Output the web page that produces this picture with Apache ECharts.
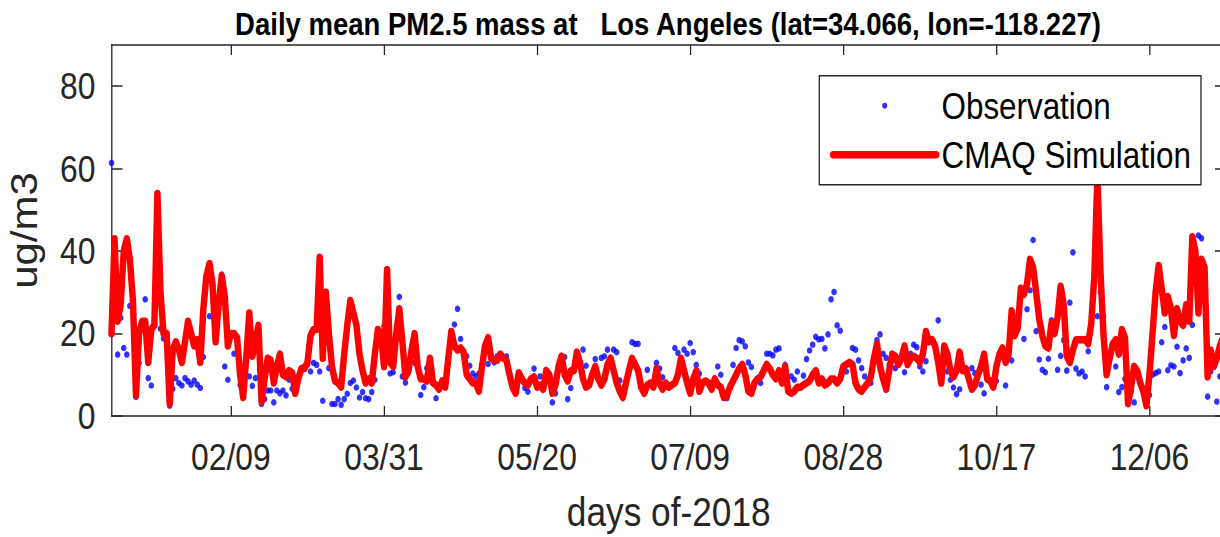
<!DOCTYPE html>
<html>
<head>
<meta charset="utf-8">
<script src="https://cdn.jsdelivr.net/npm/echarts@6/dist/echarts.min.js"></script>
<style>
  html, body { margin: 0; padding: 0; background: #fff; overflow: hidden; }
  #frame { width: 1220px; height: 537px; overflow: hidden; position: relative; }
  #chart { height: 537px; transform-origin: 0 0; }
</style>
</head>
<body>
<div id="frame"><div id="chart"></div></div>
<script>
// Tick positions (day of year) and their date labels
const tickDays = [40, 90, 140, 190, 240, 290, 340];
const tickLabels = ['02/09', '03/31', '05/20', '07/09', '08/28', '10/17', '12/06'];
const yTicks = [0, 20, 40, 60, 80];

// CMAQ simulated daily mean PM2.5 (ug/m3), day 1..365
const cmaqSim = [
  20, 43, 23, 27, 40, 43, 38, 28, 5, 20,
  23, 23, 13, 21, 22, 54, 30, 20, 20, 3,
  16, 18, 16, 13, 18, 23, 20, 17, 18.5, 13,
  26, 34, 37, 32, 18, 27, 34, 29, 17, 20,
  20, 19, 10, 4.5, 14, 25, 14.5, 18, 22, 3.5,
  9, 14, 13.5, 8, 12, 15, 10, 9.5, 11, 10.5,
  5.5, 9, 11.5, 11.5, 13, 19.5, 21, 21, 38.5, 14,
  30, 20, 12, 8.5, 8, 7, 15, 22, 28, 25,
  22, 15, 11, 8, 9, 8, 15, 21, 20, 12,
  35.5, 13, 12, 20, 26, 18, 9.5, 11, 16, 20,
  12, 9, 9, 8.5, 14, 8, 7.5, 6.5, 8.5, 7,
  14, 20.5, 17, 16, 16.5, 15.5, 10, 9, 8, 8,
  6, 12, 17, 19, 14, 13.5, 13.5, 15, 14, 13.5,
  10, 7, 5.5, 10.5, 9, 8, 7.5, 9, 9.5, 7,
  7.5, 6.5, 11, 10, 5.5, 7.5, 12, 14.5, 10, 8.5,
  11, 11, 15.5, 13, 9, 7, 7.5, 10, 12, 9,
  7.5, 9, 12.5, 14, 11, 8, 6, 4.5, 8, 11,
  14, 12.5, 11, 7, 5.5, 7.5, 8, 7, 11.5, 8,
  6.5, 8, 7, 7.5, 8, 10, 14, 11, 8, 5.5,
  9, 11, 6, 8, 8.5, 8, 6.5, 9, 7.5, 7,
  4.5, 5, 7, 8.5, 10, 11.5, 12.5, 10, 6, 5.5,
  8, 9, 9.5, 11, 12.5, 11.5, 10, 9, 11, 8,
  12, 6, 5.5, 6, 7, 7, 7.5, 8, 8.5, 10,
  11, 8, 9, 7.5, 8, 9, 9, 8, 9, 12,
  12.5, 13, 12.5, 8, 6.5, 6, 7, 8, 9.5, 14,
  17.5, 12, 9, 6.5, 11, 15, 14.5, 12.5, 14, 17,
  12.5, 14, 14.5, 14, 13, 15, 20.5, 18, 18.5, 17,
  13, 8, 17, 15, 11, 9.5, 11, 15.5, 11, 11.5,
  9, 6.5, 7.5, 10, 12, 15, 9, 8.5, 7, 12,
  15, 16.5, 13, 15, 25.5, 19.5, 21.5, 31, 29.5, 32,
  38, 36, 30, 23.5, 19.5, 17, 16.5, 22.5, 20, 24,
  31.5, 27, 14.5, 13, 16, 18.5, 18.5, 18.5, 18.5, 17.5,
  22.5, 34, 58.5, 35, 19.5, 10, 14, 17.5, 18.5, 15,
  21, 19, 3, 7, 12, 11, 8, 6, 2.5, 10,
  20, 30, 36.5, 31, 25, 29, 26, 19.5, 26, 23,
  22, 27, 23, 43.5, 40, 25, 38, 36, 9.5, 16,
  12, 14, 17, 19, 20
];

// Observed daily mean PM2.5 (ug/m3), day 1..365
const observed = [
  61.4, 42, 14.9, 23.8, 16.5, 14.9, 26.7, 27, 4.6, 12.9,
  22.5, 28.3, 9.2, 7.4, 22, 27.5, 21.2, 18.8, 20, 2.5,
  6.6, 9.2, 8, 7.4, 9.2, 8.4, 7.6, 8.6, 7.6, 6.8,
  14.3, 33, 24.2, 31.5, 18.5, 26, 34.3, 12, 8.8, 19.5,
  15.1, 19, 7.6, 5, 14, 9.6, 7.3, 9.2, 21, 2.9,
  4.1, 6.2, 6.2, 3.3, 6.2, 5.5, 6.2, 5, 8.8, 6.6,
  6, 9.5, 11, 12, 12.5, 10.8, 12.9, 12.4, 10.8, 3.7,
  28, 11.6, 2.9, 2.9, 4.1, 2.7, 4.1, 5.4, 8, 8.6,
  6.9, 4.5, 5.8, 4.3, 4.1, 5.8, 8.8, 20, 19.5, 21.8,
  33, 10.3, 10.6, 19, 28.9, 9.6, 8.1, 10.6, 16, 12.9,
  12, 5.1, 7, 11.6, 13, 8, 4.3, 6.5, 8, 7.5,
  13, 19, 22.2, 26, 18.7, 15, 14.5, 12.2, 10.3, 9.6,
  10.3, 12.5, 17, 12.6, 14, 13, 14.5, 15, 14, 14.5,
  10.5, 7, 6, 10, 9, 6.8, 5.9, 9, 11.5, 7,
  9.6, 7, 11, 9.5, 3.3, 5.5, 12, 14, 14.3, 4.1,
  6.8, 11, 15, 13, 16.1, 12.2, 8, 10, 13.8, 9,
  14.1, 14.5, 16.1, 14, 16.1, 15.5, 8.6, 5, 8, 11,
  17.9, 17.5, 17.5, 7, 6, 11.2, 8, 7.5, 12.9, 11.5,
  9.4, 8, 7, 7.5, 16.5, 15.3, 14, 16.1, 15.1, 17.7,
  15.5, 12.4, 10.3, 8, 8.5, 8, 7, 9, 12, 10,
  5, 4.3, 7, 12.4, 16.5, 18.4, 18.1, 16.9, 13, 11.9,
  8, 9, 8, 11, 15.1, 15.1, 14.7, 16.1, 16.4, 8,
  12.4, 6.5, 9.6, 8.8, 10.8, 7, 9.8, 13.8, 15.9, 17.3,
  19.2, 18.6, 18.7, 16.4, 19.8, 28.3, 30.1, 22, 20.7, 12,
  10.8, 13, 16.5, 16.1, 13.5, 11.6, 9.6, 8.1, 8, 14,
  18.4, 19.8, 15.1, 14.1, 12.4, 15, 11.6, 12.5, 14, 10.6,
  12.9, 15.1, 17.3, 16.7, 12, 10.8, 13.3, 18, 18.5, 17,
  23.2, 8, 17, 10.8, 8.8, 6.9, 5.3, 6.5, 11, 11.5,
  9, 11.6, 10.4, 10, 7.6, 5.5, 9, 8.5, 7, 8.5,
  15, 16, 7.4, 15, 13.5, 20, 21, 30, 18.7, 25.9,
  30.5, 42.7, 20.6, 13.7, 11.2, 10.6, 13.9, 23.2, 20, 11.2,
  14.6, 18.4, 11, 27.5, 39.7, 11.5, 10.3, 10.8, 9.6, 15.7,
  22, 33, 24.2, 30, 24.2, 7, 14, 17, 12, 5.8,
  7, 9, 4, 5.9, 3.3, 11, 8, 6, 3, 5.1,
  10, 10.4, 10.8, 17.9, 21.6, 11.1, 12.3, 12, 16.8, 10.4,
  13.5, 16.4, 14.1, 22.1, 39, 43.8, 43.1, 34, 4.7, 10.8,
  12, 3.5, 9.6, 8, 6
];

// The figure is drawn wide and squeezed horizontally as a whole
const SX = 0.86;
const W = 1220 / SX;
const px = v => v / SX;           // screen x distance -> drawing x distance

const el = document.getElementById('chart');
el.style.width = W + 'px';
el.style.transform = 'scaleX(' + SX + ')';

const FONT = 'Liberation Sans, Arial, sans-serif';
const AX = '#262626';

const chart = echarts.init(el, null, { renderer: 'svg', width: W, height: 537 });

const axisLine = { show: true, onZero: false, lineStyle: { color: AX, width: 1.5 } };

chart.setOption({
  animation: false,
  backgroundColor: '#fff',
  title: {
    text: 'Daily mean PM2.5 mass at   Los Angeles (lat=34.066, lon=-118.227)',
    left: px(668),
    top: 8,
    textAlign: 'center',
    padding: 0,
    textStyle: { fontFamily: FONT, fontWeight: 'bold', fontSize: 32, color: '#000' }
  },
  grid: {
    left: px(111.5), right: px(-6), top: 45, bottom: 121,
    containLabel: false, outerBoundsMode: 'none'
  },
  legend: {
    orient: 'vertical',
    left: px(819.3),
    top: 75.7,
    data: [{ name: 'Observation', icon: 'circle' }, { name: 'CMAQ Simulation' }],
    itemWidth: px(103),
    itemHeight: 6,
    itemGap: 12,
    padding: [11.5, px(10), 11.5, px(10.7)],
    borderColor: AX,
    borderWidth: 1.5,
    backgroundColor: '#fff',
    selectedMode: false,
    lineStyle: { width: 7.5 },
    textStyle: { fontFamily: FONT, fontSize: 36.5, color: '#000', padding: [0, 0, 0, px(1)] }
  },
  xAxis: [{
    type: 'value', min: 1, max: 365, position: 'bottom',
    axisLine: axisLine,
    axisTick: { show: true, inside: true, length: 10, customValues: tickDays, lineStyle: { color: AX, width: 1.5 } },
    axisLabel: {
      customValues: tickDays,
      formatter: v => tickLabels[tickDays.indexOf(v)],
      color: AX, fontFamily: FONT, fontSize: 37, margin: 23
    },
    splitLine: { show: false },
    name: 'days of-2018', nameLocation: 'middle', nameGap: 75,
    nameTextStyle: { fontFamily: FONT, fontSize: 41, color: AX }
  }, {
    type: 'value', min: 1, max: 365, position: 'top',
    axisLine: axisLine,
    axisTick: { show: true, inside: true, length: 10, customValues: tickDays, lineStyle: { color: AX, width: 1.5 } },
    axisLabel: { show: false },
    splitLine: { show: false }
  }],
  yAxis: [{
    type: 'value', min: 0, max: 90, position: 'left',
    axisLine: axisLine,
    axisTick: { show: true, inside: true, length: px(11), customValues: yTicks, lineStyle: { color: AX, width: 1.5 } },
    axisLabel: { customValues: yTicks, color: AX, fontFamily: FONT, fontSize: 37, margin: px(16) },
    splitLine: { show: false },
    name: 'ug/m3', nameLocation: 'middle', nameGap: px(69),
    nameTextStyle: { fontFamily: FONT, fontSize: 42, color: AX }
  }, {
    type: 'value', min: 0, max: 90, position: 'right',
    axisLine: axisLine,
    axisTick: { show: true, inside: true, length: px(11), customValues: yTicks, lineStyle: { color: AX, width: 1.5 } },
    axisLabel: { show: false },
    splitLine: { show: false }
  }],
  series: [{
    name: 'Observation',
    type: 'scatter',
    xAxisIndex: 0, yAxisIndex: 0,
    symbol: 'circle',
    symbolSize: 6.5,
    itemStyle: { color: '#0000ff' },
    clip: false,
    data: observed.map((v, i) => [i + 1, v])
  }, {
    name: 'CMAQ Simulation',
    type: 'line',
    xAxisIndex: 0, yAxisIndex: 0,
    showSymbol: false,
    symbol: 'none',
    clip: false,
    lineStyle: { color: '#ff0000', width: 7.5, join: 'round', cap: 'round' },
    itemStyle: { color: '#ff0000' },
    data: cmaqSim.map((v, i) => [i + 1, v])
  }]
});
</script>
</body>
</html>
